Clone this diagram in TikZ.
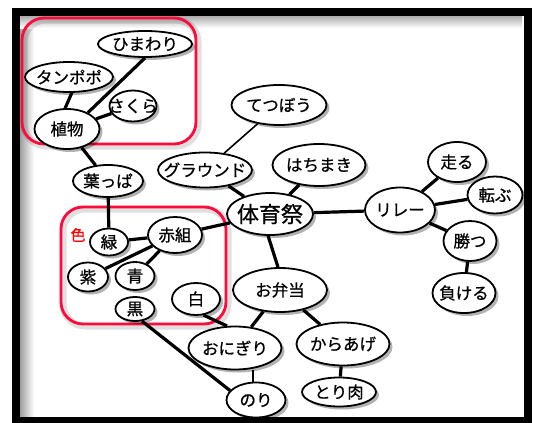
\documentclass[tikz,border=0pt]{standalone}
\usepackage{fontspec}
\newfontfamily\jp[FakeBold=0.8]{Noto Sans CJK JP}
\usetikzlibrary{shapes.geometric,shadows,backgrounds}
\definecolor{rimred}{HTML}{FF0A3C}
\begin{document}
\begin{tikzpicture}[x=1pt,y=-1pt,
  bub/.style={ellipse,draw,line width=1.8pt,fill=white,inner sep=0pt,
    drop shadow={shadow xshift=3pt,shadow yshift=-3pt,opacity=0.3,fill=black}},
  txt/.style={font=\jp\fontsize{16.5}{19}\selectfont,inner sep=0pt},
  bigtxt/.style={font=\jp\fontsize{22}{25}\selectfont,inner sep=0pt},
  link/.style={line width=3.2pt},
  thinlink/.style={line width=1.6pt},
  group/.style={draw=rimred,line width=2.8pt,rounded corners=22pt},
  groupshade/.style={draw=black,opacity=0.12,line width=7pt,rounded corners=22pt}]
\useasboundingbox (0,0) rectangle (533,423);

% nodes
\node[bub,minimum width=94,minimum height=26,label={[txt]center:ひまわり}] (himawari) at (145,44) {};
\node[bub,minimum width=88,minimum height=30,label={[txt]center:タンポポ}] (tanpopo) at (69,77) {};
\node[bub,minimum width=47,minimum height=31,label={[txt]center:さくら}] (sakura) at (133,106) {};
\node[bub,minimum width=65,minimum height=40,label={[txt]center:植物}] (shoku) at (67,129) {};
\node[bub,minimum width=70,minimum height=32,label={[txt]center:葉っぱ}] (happa) at (108,181) {};
\node[bub,minimum width=95,minimum height=40,label={[txt]center:てつぼう}] (tetsubou) at (279,105) {};
\node[bub,minimum width=94,minimum height=35,label={[txt]center:グラウンド}] (ground) at (205,170) {};
\node[bub,minimum width=93,minimum height=42,label={[txt]center:はちまき}] (hachimaki) at (319,165) {};
\node[bub,minimum width=86,minimum height=42,label={[bigtxt]center:体育祭}] (taiiku) at (270,214) {};
\node[bub,minimum width=70,minimum height=45,label={[txt]center:リレー}] (relay) at (400,210) {};
\node[bub,minimum width=58,minimum height=40,label={[txt]center:走る}] (hashiru) at (457,162) {};
\node[bub,minimum width=55,minimum height=37,label={[txt]center:転ぶ}] (korobu) at (495,195) {};
\node[bub,minimum width=53,minimum height=40,label={[txt]center:勝つ}] (katsu) at (470,241) {};
\node[bub,minimum width=63,minimum height=40,label={[txt]center:負ける}] (makeru) at (464,293) {};
\node[bub,minimum width=94,minimum height=44,label={[txt]center:お弁当}] (bentou) at (280,290) {};
\node[bub,minimum width=48,minimum height=32,label={[txt]center:白}] (shiro) at (196,299) {};
\node[bub,minimum width=93,minimum height=43,label={[txt]center:おにぎり}] (onigiri) at (235,348) {};
\node[bub,minimum width=93,minimum height=43,label={[txt]center:からあげ}] (karaage) at (343,344) {};
\node[bub,minimum width=59,minimum height=35,label={[txt]center:のり}] (nori) at (256,400) {};
\node[bub,minimum width=74,minimum height=29,label={[txt]center:とり肉}] (toriniku) at (339,392) {};
\node[bub,minimum width=38,minimum height=27,label={[txt]center:緑}] (midori) at (109,242) {};
\node[bub,minimum width=54,minimum height=36,label={[txt]center:赤組}] (akagumi) at (175,235) {};
\node[bub,minimum width=40,minimum height=29,label={[txt]center:紫}] (murasaki) at (88,277) {};
\node[bub,minimum width=39,minimum height=28,label={[txt]center:青}] (ao) at (135,276) {};
\node[bub,minimum width=39,minimum height=24,label={[txt]center:黒}] (kuro) at (135,309) {};
\node[font=\jp\fontsize{15}{17}\selectfont,text=red,inner sep=0pt] (iro) at (78,235) {色};

\begin{scope}[on background layer]
  \fill[white] (0,0) rectangle (533,423);
  % frame with inner shadow
  \shade[left color=gray!75,right color=white] (20,16) rectangle (34,417);
  \shade[top color=gray!65,bottom color=white] (20,16) rectangle (522,28);
  \draw[line width=8pt] (16,12) rectangle (527.5,420.5);
  % groups
  \draw[groupshade] (24,20) rectangle (198,146);
  \draw[groupshade] (63,209) rectangle (228,326);
  \draw[group] (22,18) rectangle (196,144);
  \draw[group] (61,207) rectangle (226,324);
  % connectors
  \draw[link] (tanpopo.-80) -- (shoku.95);
  \draw[link] (himawari.-90) -- (shoku.38);
  \draw[link] (sakura) -- (shoku);
  \draw[link] (shoku) -- (happa);
  \draw[link] (happa) -- (midori);
  \draw[link] (midori) -- (akagumi);
  \draw[link] (murasaki) -- (akagumi);
  \draw[link] (ao) -- (akagumi);
  \draw[link] (akagumi) -- (taiiku);
  \draw[link] (kuro.-60) -- (nori.160);
  \draw[link] (shiro.-65) -- (onigiri.110);
  \draw[link] (onigiri) -- (bentou);
  \draw[thinlink] (nori.100) -- (nori.100 |- onigiri.south);
  \draw[link] (bentou.95) -- (taiiku.-95);
  \draw[link] (bentou) -- (karaage);
  \draw[link] (karaage) -- (toriniku);
  \draw[link] (taiiku) -- (ground);
  \draw[thinlink] (ground) -- (tetsubou);
  \draw[link] (taiiku) -- (hachimaki);
  \draw[link] (taiiku) -- (relay);
  \draw[link] (relay) -- (hashiru);
  \draw[link] (relay) -- (korobu);
  \draw[link] (relay) -- (katsu);
  \draw[link] (katsu) -- (makeru);
\end{scope}
\end{tikzpicture}
\end{document}
